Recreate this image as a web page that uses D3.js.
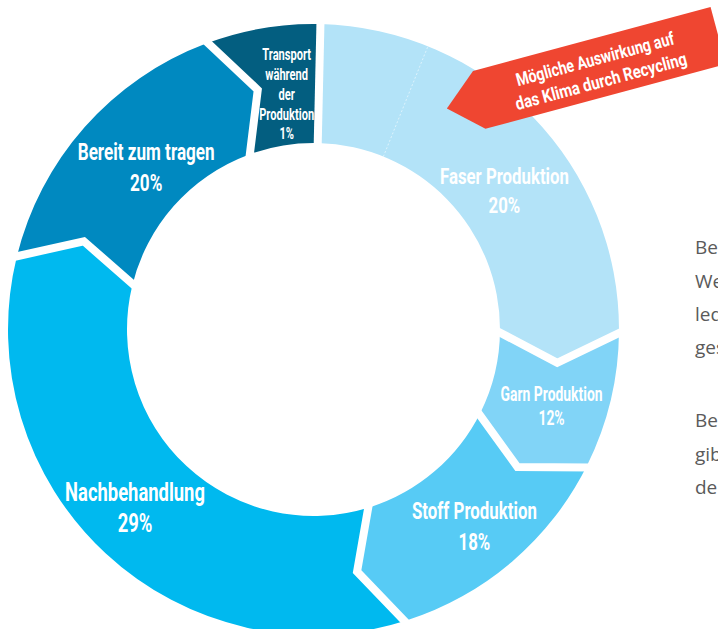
<!DOCTYPE html>
<html><head><meta charset="utf-8">
<script src="https://cdn.jsdelivr.net/npm/d3@7"></script>
<style>html,body{margin:0;padding:0;background:#fff;overflow:hidden}svg{display:block}</style>
</head><body>
<svg id="chart" width="718" height="629"></svg>
<script>
// ---------- data ----------
const categories = ["Faser Produktion", "Garn Produktion", "Stoff Produktion", "Nachbehandlung", "Bereit zum tragen", "Transport während der Produktion"];
const labelLines = [["Faser Produktion"], ["Garn Produktion"], ["Stoff Produktion"], ["Nachbehandlung"], ["Bereit zum tragen"], ["Transport", "während", "der", "Produktion"]];
const percentValues = [20, 12, 18, 29, 20, 1];
// angular share of each ring segment as drawn in the picture (degrees)
const drawnShare = [89, 26.2, 45.8, 121.2, 55.9, 21.9];
const calloutLines = ["Mögliche Auswirkung auf", "das Klima durch Recycling"];
const sideText = ["Betrachtet man den gesamten", "Wertschöpfungsprozess, so", "lediglich ein kleiner Teil des", "gesamten Fußabdrucks.", "Bei der Faserproduktion", "gibt es das größte Potenzial", "der Einsparung."];

// ---------- styles / layout ----------
const colors = ["#b3e3f8", "#81d4f7", "#57cbf5", "#00b9ef", "#0089c0", "#035e80"];
const labelLayout = [
  {ang: 54.0, rad: 236, size: 22, gap: 29, width: 129},
  {ang: 107.8, rad: 250, size: 20, gap: 24, width: 102},
  {ang: 140.7, rad: 254, size: 24, gap: 31, width: 125},
  {ang: 225.1, rad: 252, size: 25, gap: 31, width: 140},
  {ang: 314.1, rad: 233, size: 24, gap: 31, width: 137},
  {ang: 353.5, rad: 237, size: 16.5, gap: 19.8, width: 55, widest: 3}
];
const cx = 313.5, cy = 329.5, R = 305.5, r = 186.5, rm = (R + r) / 2;
const rad = Math.PI / 180;
const notch = 7.5 * rad;
const startOffset = 1.3 * rad;
const FONT = "Roboto, 'Liberation Sans', sans-serif";

const svg = d3.select("#chart");
const g = svg.append("g").attr("transform", `translate(${cx},${cy})`);

const pie = d3.pie().sort(null).value(d => d)
  .startAngle(startOffset).endAngle(startOffset + 2 * Math.PI);
const arcs = pie(drawnShare);
const P = (a, rr) => [rr * Math.sin(a), -rr * Math.cos(a)];
const last = arcs.length - 1;

function segPath(d, i) {
  const a0 = d.startAngle, a1 = d.endAngle;
  const n0 = i === 0 ? 0 : notch;
  const n1 = i === last ? 0 : notch;
  const p = d3.path();
  p.moveTo(...P(a0, r));
  p.lineTo(...P(a0 + n0, rm));
  p.lineTo(...P(a0, R));
  p.arc(0, 0, R, a0 - Math.PI / 2, a1 - Math.PI / 2, false);
  p.lineTo(...P(a1 + n1, rm));
  p.lineTo(...P(a1, r));
  p.arc(0, 0, r, a1 - Math.PI / 2, a0 - Math.PI / 2, true);
  p.closePath();
  return p.toString();
}

g.selectAll("path.seg").data(arcs).enter().append("path")
  .attr("class", "seg")
  .attr("d", segPath)
  .attr("fill", (d, i) => colors[i]);

// faint divider in the first segment (recycling potential)
const fa = 22 * rad;
g.append("line")
  .attr("x1", P(fa, r)[0]).attr("y1", P(fa, r)[1])
  .attr("x2", P(fa, R)[0]).attr("y2", P(fa, R)[1])
  .attr("stroke", "#ffffff").attr("stroke-opacity", 0.55)
  .attr("stroke-width", 1).attr("stroke-dasharray", "2,2");

// white separators
g.selectAll("path.sep").data(arcs).enter().append("path")
  .attr("class", "sep")
  .attr("d", (d, i) => {
    const a = d.startAngle;
    const p = d3.path();
    p.moveTo(...P(a, r - 4));
    if (i !== 0) p.lineTo(...P(a + notch, rm));
    p.lineTo(...P(a, R + 4));
    return p.toString();
  })
  .attr("fill", "none").attr("stroke", "#fff")
  .attr("stroke-width", 8).attr("stroke-linejoin", "miter").attr("stroke-miterlimit", 10);

// labels
arcs.forEach((d, i) => {
  const L = labelLayout[i];
  const [lx, ly] = P(L.ang * rad, L.rad);
  const lines = labelLines[i].concat([percentValues[i] + "%"]);
  const n = lines.length;
  const outer = g.append("g").attr("transform", `translate(${lx},${ly})`);
  const inner = outer.append("g");
  const texts = inner.selectAll("text").data(lines).enter().append("text")
    .attr("x", 0)
    .attr("y", (t, k) => (k - (n - 1) / 2) * L.gap + 0.355 * L.size)
    .attr("text-anchor", "middle")
    .attr("fill", "#fff")
    .attr("font-family", FONT)
    .attr("font-weight", 700)
    .attr("font-size", L.size)
    .text(t => t);
  const widest = texts.nodes()[L.widest || 0].getComputedTextLength();
  inner.attr("transform", `scale(${L.width / widest},1)`);
});

// callout arrow
const arrow = svg.append("g").attr("transform", "translate(473,71) rotate(-15.07)");
arrow.append("path")
  .attr("d", "M0,0 L246,0 L246,59 L-3,59 L-35,29.5 Z")
  .attr("fill", "#ef4631");
const calloutWidths = [163, 177];
calloutLines.forEach((t, k) => {
  const tg = arrow.append("g").attr("transform", `translate(121,${20 + k * 23 + 6.4})`);
  const tx = tg.append("text").attr("text-anchor", "middle")
    .attr("fill", "#fff").attr("font-family", FONT).attr("font-weight", 700)
    .attr("font-size", 18).text(t);
  tx.attr("transform", `scale(${calloutWidths[k] / tx.node().getComputedTextLength()},1)`);
});

// side paragraph (cut by the frame edge, as in the source layout)
const sideY = [254, 288, 321, 354, 427, 461, 494];
svg.selectAll("text.side").data(sideText).enter().append("text")
  .attr("class", "side")
  .attr("x", 695).attr("y", (t, k) => sideY[k])
  .attr("fill", "#5a5a5a")
  .attr("font-family", "'Open Sans', 'Noto Sans', sans-serif")
  .attr("font-weight", 400)
  .attr("font-size", 19)
  .text(t => t);
</script>
</body></html>
